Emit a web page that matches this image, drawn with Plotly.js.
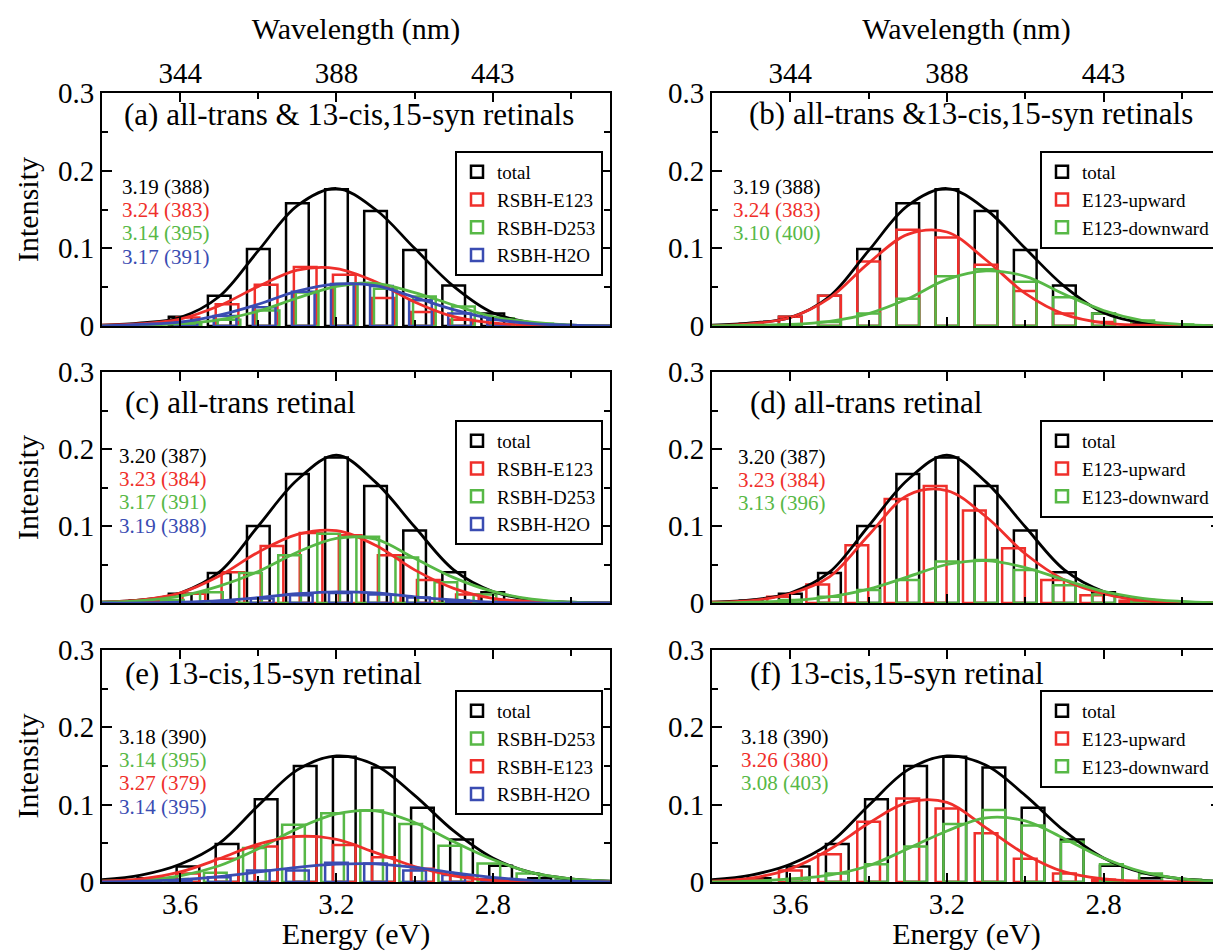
<!DOCTYPE html>
<html><head><meta charset="utf-8">
<script src="https://cdn.plot.ly/plotly-3.0.1.min.js"></script>
<style>html,body{margin:0;padding:0;overflow:hidden;background:#fff;} #chart{width:1225px;height:951px;}</style>
</head><body><div id="chart"></div>
<script>
// ---------- DATA ----------
const curveE = [3.8,3.7,3.6,3.5,3.4,3.3,3.2,3.1,3.0,2.9,2.8,2.7,2.6,2.5];
const energyTicks = [3.6,3.2,2.8];
const energyMinorTicks = [3.4,3.0,2.6];
const energyLabels = ['3.6','3.2','2.8'];
const wavelengthLabels = ['344','388','443'];
const intensityTicks = [0,0.1,0.2,0.3];
const intensityLabels = ['0','0.1','0.2','0.3'];
const intensityMinorTicks = [0.05,0.15,0.25];

const panelTitles = ['(a) all-trans & 13-cis,15-syn retinals','(b) all-trans &13-cis,15-syn retinals',
  '(c) all-trans retinal','(d) all-trans retinal','(e) 13-cis,15-syn retinal','(f) 13-cis,15-syn retinal'];

// (a)/(b) both retinals
const totalABbinE = [3.7,3.6,3.5,3.4,3.3,3.2,3.1,3.0,2.9,2.8,2.7];
const totalABbin  = [0.002,0.012,0.039,0.099,0.158,0.176,0.148,0.098,0.052,0.016,0.003];
const totalABcurve= [0.001,0.004,0.011,0.038,0.097,0.155,0.177,0.150,0.100,0.051,0.017,0.004,0.001,0.0];
const e123AbinE = [3.68,3.58,3.48,3.38,3.28,3.18,3.08,2.98,2.88,2.78];
const e123Abin  = [0.002,0.011,0.028,0.053,0.076,0.066,0.036,0.018,0.008,0.002];
const e123Acurve= [0.001,0.003,0.009,0.026,0.051,0.072,0.074,0.057,0.031,0.012,0.004,0.001,0.0,0.0];
const d253AbinE = [3.575,3.475,3.375,3.275,3.175,3.075,2.975,2.875,2.775,2.675];
const d253Abin  = [0.003,0.008,0.020,0.043,0.054,0.048,0.038,0.025,0.010,0.003];
const d253Acurve= [0.0,0.001,0.003,0.008,0.019,0.036,0.051,0.055,0.043,0.027,0.012,0.005,0.001,0.0];
const h2oAbinE = [3.685,3.585,3.485,3.385,3.285,3.185,3.085,2.985,2.885,2.785];
const h2oAbin  = [0.002,0.005,0.013,0.024,0.044,0.054,0.0515,0.033,0.016,0.008];
const h2oAcurve= [0.0,0.002,0.005,0.014,0.028,0.045,0.054,0.052,0.037,0.021,0.009,0.003,0.001,0.0];
const upBbinE = [3.7,3.6,3.5,3.4,3.3,3.2,3.1,3.0,2.9,2.8,2.7];
const upBbin  = [0.003,0.012,0.039,0.083,0.124,0.114,0.079,0.045,0.016,0.005,0.001];
const upBcurve= [0.0,0.003,0.011,0.036,0.081,0.118,0.121,0.085,0.042,0.015,0.004,0.001,0.0,0.0];
const downBbinE = [3.6,3.5,3.4,3.3,3.2,3.1,3.0,2.9,2.8,2.7,2.6];
const downBbin  = [0.002,0.005,0.016,0.035,0.064,0.073,0.057,0.037,0.016,0.007,0.002];
const downBcurve= [0.0,0.001,0.002,0.006,0.016,0.035,0.060,0.071,0.064,0.041,0.020,0.007,0.002,0.0];

// (c)/(d) all-trans
const totalCDbinE = [3.7,3.6,3.5,3.4,3.3,3.2,3.1,3.0,2.9,2.8,2.7];
const totalCDbin  = [0.003,0.012,0.039,0.100,0.1675,0.189,0.152,0.094,0.040,0.014,0.002];
const totalCDcurve= [0.001,0.004,0.013,0.040,0.100,0.160,0.192,0.157,0.099,0.043,0.015,0.004,0.001,0.0];
const e123CbinE = [3.665,3.565,3.465,3.365,3.265,3.165,3.065,2.965,2.865,2.765];
const e123Cbin  = [0.003,0.012,0.040,0.074,0.091,0.088,0.062,0.030,0.011,0.003];
const e123Ccurve= [0.001,0.004,0.013,0.035,0.066,0.089,0.094,0.075,0.043,0.019,0.006,0.002,0.0,0.0];
const d253CbinE = [3.62,3.52,3.42,3.32,3.22,3.12,3.02,2.92,2.82,2.72];
const d253Cbin  = [0.004,0.014,0.039,0.062,0.090,0.086,0.059,0.027,0.011,0.003];
const d253Ccurve= [0.001,0.003,0.009,0.022,0.041,0.066,0.084,0.083,0.058,0.033,0.015,0.005,0.001,0.0];
const h2oCbinE = [3.49,3.39,3.29,3.19,3.09,2.99,2.89,2.79];
const h2oCbin  = [0.002,0.006,0.010,0.013,0.011,0.007,0.003,0.001];
const h2oCcurve= [0.0,0.0,0.001,0.003,0.007,0.012,0.0145,0.013,0.008,0.004,0.001,0.0,0.0,0.0];
const upDbinE = [3.63,3.53,3.43,3.33,3.23,3.13,3.03,2.93,2.83,2.73];
const upDbin  = [0.008,0.024,0.075,0.135,0.152,0.120,0.071,0.030,0.010,0.003];
const upDcurve= [0.001,0.003,0.012,0.034,0.088,0.140,0.146,0.112,0.064,0.030,0.012,0.003,0.001,0.0];
const downDbinE = [3.6,3.5,3.4,3.3,3.2,3.1,3.0,2.9,2.8,2.7];
const downDbin  = [0.004,0.008,0.017,0.030,0.054,0.056,0.043,0.023,0.011,0.004];
const downDcurve= [0.0,0.001,0.003,0.008,0.018,0.034,0.050,0.055,0.046,0.030,0.015,0.006,0.002,0.0];

// (e)/(f) 13-cis,15-syn
const totalEFbinE = [3.68,3.58,3.48,3.38,3.28,3.18,3.08,2.98,2.88,2.78,2.68];
const totalEFbin  = [0.005,0.020,0.049,0.107,0.150,0.162,0.148,0.096,0.055,0.021,0.005];
const totalEFcurve= [0.003,0.009,0.023,0.050,0.099,0.145,0.163,0.151,0.112,0.066,0.031,0.012,0.004,0.001];
const d253EbinE = [3.61,3.51,3.41,3.31,3.21,3.11,3.01,2.91,2.81,2.71,2.61];
const d253Ebin  = [0.004,0.012,0.044,0.074,0.089,0.0925,0.075,0.047,0.024,0.011,0.003];
const d253Ecurve= [0.001,0.003,0.008,0.021,0.043,0.069,0.088,0.092,0.077,0.052,0.029,0.012,0.004,0.001];
const e123EbinE = [3.68,3.58,3.48,3.38,3.28,3.18,3.08,2.98,2.88,2.78];
const e123Ebin  = [0.003,0.011,0.030,0.046,0.059,0.048,0.032,0.017,0.008,0.002];
const e123Ecurve= [0.001,0.004,0.013,0.030,0.049,0.059,0.055,0.038,0.020,0.008,0.002,0.001,0.0,0.0];
const h2oEbinE = [3.6,3.5,3.4,3.3,3.2,3.1,3.0,2.9,2.8,2.7];
const h2oEbin  = [0.002,0.006,0.015,0.015,0.025,0.024,0.015,0.009,0.004,0.001];
const h2oEcurve= [0.0,0.001,0.003,0.007,0.013,0.019,0.023,0.0235,0.019,0.012,0.006,0.002,0.001,0.0];
const upFbinE = [3.7,3.6,3.5,3.4,3.3,3.2,3.1,3.0,2.9,2.8];
const upFbin  = [0.003,0.015,0.036,0.078,0.108,0.095,0.063,0.030,0.011,0.003];
const upFcurve= [0.001,0.005,0.017,0.042,0.076,0.103,0.103,0.070,0.036,0.013,0.004,0.001,0.0,0.0];
const downFbinE = [3.68,3.58,3.48,3.38,3.28,3.18,3.08,2.98,2.88,2.78,2.68,2.58];
const downFbin  = [0.001,0.004,0.011,0.023,0.046,0.075,0.093,0.073,0.052,0.023,0.011,0.003];
const downFcurve= [0.0,0.001,0.004,0.009,0.021,0.043,0.066,0.083,0.079,0.056,0.031,0.013,0.004,0.001];

// peak labels (eV (nm)) per panel
const peaksA = ['3.19 (388)','3.24 (383)','3.14 (395)','3.17 (391)'];
const peaksB = ['3.19 (388)','3.24 (383)','3.10 (400)'];
const peaksC = ['3.20 (387)','3.23 (384)','3.17 (391)','3.19 (388)'];
const peaksD = ['3.20 (387)','3.23 (384)','3.13 (396)'];
const peaksE = ['3.18 (390)','3.14 (395)','3.27 (379)','3.14 (395)'];
const peaksF = ['3.18 (390)','3.26 (380)','3.08 (403)'];

// ---------- STYLE ----------
const BLACK='#000000', RED='#ef2f2b', GREEN='#57b846', BLUE='#3a4cb2';
const FONT='"Liberation Serif","Times New Roman",Times,serif';
const W=1225, H=951;
const colPx=[[102,610],[712,1221]];
const rowPx=[[93,326],[372,603],[650,882]];

const panels = [
  {series:[['total',BLACK,totalABbinE,totalABbin,totalABcurve],['RSBH-E123',RED,e123AbinE,e123Abin,e123Acurve],['RSBH-D253',GREEN,d253AbinE,d253Abin,d253Acurve],['RSBH-H2O',BLUE,h2oAbinE,h2oAbin,h2oAcurve]], peaks:peaksA, pc:[BLACK,RED,GREEN,BLUE]},
  {series:[['total',BLACK,totalABbinE,totalABbin,totalABcurve],['E123-upward',RED,upBbinE,upBbin,upBcurve],['E123-downward',GREEN,downBbinE,downBbin,downBcurve]], peaks:peaksB, pc:[BLACK,RED,GREEN]},
  {series:[['total',BLACK,totalCDbinE,totalCDbin,totalCDcurve],['RSBH-E123',RED,e123CbinE,e123Cbin,e123Ccurve],['RSBH-D253',GREEN,d253CbinE,d253Cbin,d253Ccurve],['RSBH-H2O',BLUE,h2oCbinE,h2oCbin,h2oCcurve]], peaks:peaksC, pc:[BLACK,RED,GREEN,BLUE]},
  {series:[['total',BLACK,totalCDbinE,totalCDbin,totalCDcurve],['E123-upward',RED,upDbinE,upDbin,upDcurve],['E123-downward',GREEN,downDbinE,downDbin,downDcurve]], peaks:peaksD, pc:[BLACK,RED,GREEN]},
  {series:[['total',BLACK,totalEFbinE,totalEFbin,totalEFcurve],['RSBH-D253',GREEN,d253EbinE,d253Ebin,d253Ecurve],['RSBH-E123',RED,e123EbinE,e123Ebin,e123Ecurve],['RSBH-H2O',BLUE,h2oEbinE,h2oEbin,h2oEcurve]], peaks:peaksE, pc:[BLACK,GREEN,RED,BLUE]},
  {series:[['total',BLACK,totalEFbinE,totalEFbin,totalEFcurve],['E123-upward',RED,upFbinE,upFbin,upFcurve],['E123-downward',GREEN,downFbinE,downFbin,downFcurve]], peaks:peaksF, pc:[BLACK,RED,GREEN]}
];

const traces=[]; const layout={width:W,height:H,margin:{l:0,r:0,t:0,b:0},paper_bgcolor:'#fff',plot_bgcolor:'rgba(0,0,0,0)',
  barmode:'overlay',showlegend:true,font:{family:FONT,color:'#000'},annotations:[]};

panels.forEach((p,i)=>{
  const row=Math.floor(i/2), col=i%2;
  const xs = i===0?'x':'x'+(i+1), ys = i===0?'y':'y'+(i+1);
  const xname = i===0?'xaxis':'xaxis'+(i+1), yname = i===0?'yaxis':'yaxis'+(i+1);
  const lg = i===0?'legend':'legend'+(i+1);
  // bars
  p.series.forEach(s=>{
    traces.push({type:'bar',x:s[2],y:s[3],name:s[0],xaxis:xs,yaxis:ys,legend:lg,width:0.058,
      marker:{color:'rgba(0,0,0,0)',line:{color:s[1],width:2.5}},hoverinfo:'skip'});
  });
  // curves
  p.series.forEach(s=>{
    traces.push({type:'scatter',mode:'lines',x:curveE,y:s[4],xaxis:xs,yaxis:ys,showlegend:false,
      line:{color:s[1],width:2.8,shape:'spline'},hoverinfo:'skip'});
  });
  const xd=[colPx[col][0]/W,colPx[col][1]/W];
  const yd=[1-rowPx[row][1]/H,1-rowPx[row][0]/H];
  const xax={domain:xd,anchor:ys,range:[3.8,2.5],showline:true,linewidth:2,linecolor:'#000',mirror:'allticks',
    ticks:'inside',ticklen:9,tickwidth:2,tickcolor:'#000',tickmode:'array',tickvals:energyTicks,
    minor:{tickmode:'array',tickvals:energyMinorTicks,ticks:'inside',ticklen:6,tickwidth:2,tickcolor:'#000',showgrid:false},
    showgrid:false,zeroline:false,automargin:false,tickfont:{family:FONT,size:29,color:'#000'}};
  if(row===0){ xax.side='top'; xax.ticktext=wavelengthLabels; xax.showticklabels=true; xax.ticklabelstandoff=-4;
    xax.title={text:'Wavelength (nm)',font:{family:FONT,size:30,color:'#000'},standoff:9}; }
  else if(row===2){ xax.side='bottom'; xax.ticktext=energyLabels; xax.showticklabels=true; xax.ticklabelstandoff=-5;
    xax.title={text:'Energy (eV)',font:{family:FONT,size:30,color:'#000'},standoff:9}; }
  else { xax.showticklabels=false; }
  layout[xname]=xax;
  const yax={domain:yd,anchor:xs,range:[0,0.3],showline:true,linewidth:2,linecolor:'#000',mirror:'allticks',
    ticks:'inside',ticklen:10,tickwidth:2,tickcolor:'#000',tickmode:'array',tickvals:intensityTicks,ticktext:intensityLabels,
    minor:{tickmode:'array',tickvals:intensityMinorTicks,ticks:'inside',ticklen:6,tickwidth:2,tickcolor:'#000',showgrid:false},
    showgrid:false,zeroline:false,automargin:false,tickfont:{family:FONT,size:29,color:'#000'}};
  if(col===0){ yax.title={text:'Intensity',font:{family:FONT,size:30,color:'#000'},standoff:10}; }
  layout[yname]=yax;
  // legend
  const legTop=[151,420,690][row];
  const legLeft=[455,1040][col];
  layout[lg]={x:legLeft/W,y:1-legTop/H,xanchor:'left',yanchor:'top',bgcolor:'#fff',bordercolor:'#000',borderwidth:2,
    font:{family:FONT,size:19,color:'#000'},itemwidth:30,tracegroupgap:0,traceorder:'normal'};
  // panel title
  const titlePos=[[122,114],[747,113],[123,402],[748,402],[123,673],[748,673]][i];
  layout.annotations.push({xref:'paper',yref:'paper',x:titlePos[0]/W,y:1-titlePos[1]/H,xanchor:'left',yanchor:'middle',
    showarrow:false,text:panelTitles[i],font:{family:FONT,size:31,color:'#000'}});
  // peak labels
  const px=[121,732,118,737,118,740][i];
  const py0=[186.5,186.5,455.5,456.5,736.5,736.5][i];
  p.peaks.forEach((t,k)=>{
    layout.annotations.push({xref:'paper',yref:'paper',x:px/W,y:1-(py0+k*23.4)/H,xanchor:'left',yanchor:'middle',
      showarrow:false,text:t,font:{family:FONT,size:21,color:p.pc[k]},borderpad:0});
  });
});

Plotly.newPlot('chart',traces,layout,{staticPlot:true,displayModeBar:false});
</script></body></html>
